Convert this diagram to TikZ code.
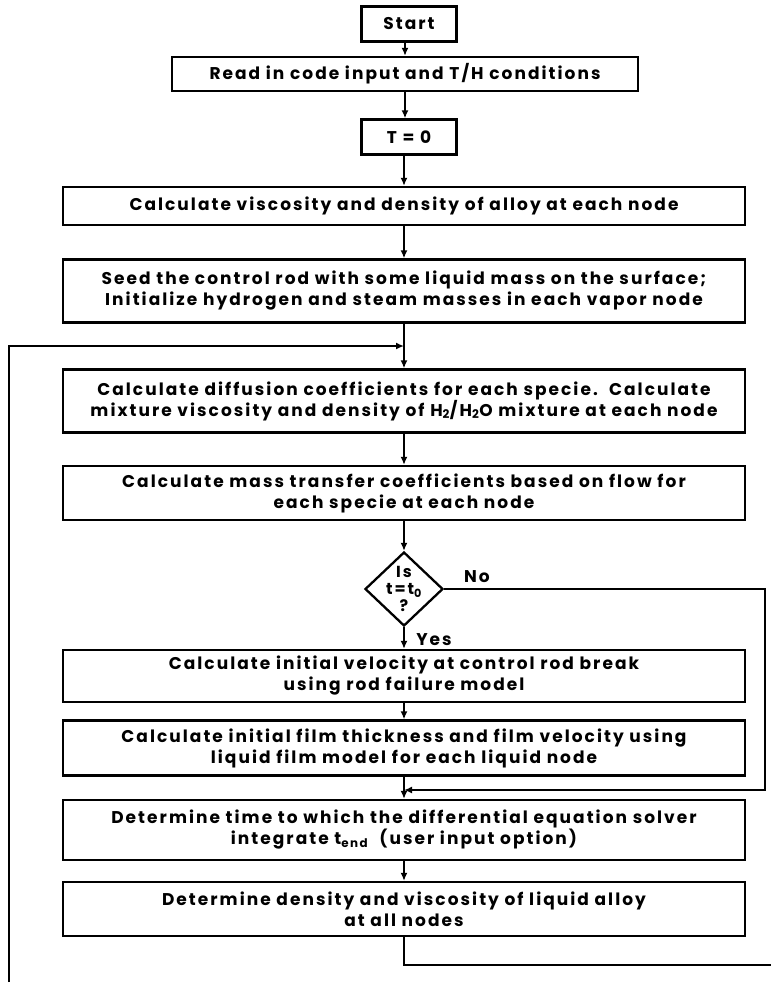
\documentclass[tikz,border=0pt]{standalone}
\usepackage{fontspec}
\setmainfont{Poppins}[LetterSpace=12]
\usetikzlibrary{arrows.meta,shapes.geometric}
\newcommand{\boxfont}{\fontsize{17}{21}\selectfont\bfseries}
\tikzset{
  box/.style={draw, line width=2.3pt, minimum width=682pt, inner sep=0pt, align=center, font=\boxfont},
  arr/.style={-{Latex[length=8pt,width=7pt]}, line width=2.3pt},
  lbl/.style={inner sep=0pt, font=\boxfont}
}
\begin{document}
\begin{tikzpicture}[x=1pt,y=-1pt,line width=2.3pt]
\useasboundingbox (0,0) rectangle (771,985);
\node[box, minimum width=95pt, minimum height=35pt] (start) at (409,24) {Start};
\node[box, minimum width=466pt, minimum height=34pt] (read) at (405,74) {Read in code input and T/H conditions};
\node[box, minimum width=95pt, minimum height=35pt] (t0) at (409,137) {T = 0};
\node[box, minimum height=38pt] (visc) at (404,206) {Calculate viscosity and density of alloy at each node};
\node[box, minimum height=63pt] (seed) at (404,291) {Seed the control rod with some liquid mass on the surface;\\Initialize hydrogen and steam masses in each vapor node};
\coordinate (j1) at (404,346);
\coordinate (loopstart) at (9,982);
\node[box, minimum height=63pt] (diff) at (404,401) {Calculate diffusion coefficients for each specie.\ \ Calculate\\mixture viscosity and density of H\textsubscript{2}/H\textsubscript{2}O mixture at each node};
\node[box, minimum height=54pt] (mass) at (404,493) {Calculate mass transfer coefficients based on flow for\\each specie at each node};
\node[draw, diamond, line width=2.3pt, minimum width=78pt, minimum height=74pt, inner sep=0pt] (dec) at (404,589) {};
\node[lbl, align=center, font=\fontsize{16}{17}\selectfont\bfseries] (dectext) at (dec.center) {Is\\t=t\textsubscript{0}\\?};
\node[box, minimum height=52pt] (vel) at (404,676) {Calculate initial velocity at control rod break\\using rod failure model};
\node[box, minimum height=55pt] (film) at (404,748) {Calculate initial film thickness and film velocity using\\liquid film model for each liquid node};
\coordinate (j2) at (404,790);
\coordinate (noR) at (765,589);
\node[box, minimum height=60pt] (time) at (404,830) {Determine time to which the differential equation solver\\integrate t\textsubscript{end}\ \ (user input option)};
\node[box, minimum height=54pt] (dens) at (404,909) {Determine density and viscosity of liquid alloy\\at all nodes};
\coordinate (bend) at (771,965);
\node[lbl] (no) at (477,577) {No};
\node[lbl] (yes) at (434,640) {Yes};
\draw[arr] (start.south -| read.north) -- (read.north);
\draw[arr] (read) -- (t0.north -| read.north);
\draw[arr] (t0.south -| visc.north) -- (visc.north);
\draw[arr] (visc) -- (seed);
\draw[arr] (seed) -- (diff);
\draw[arr] (loopstart) |- (j1);
\draw[arr] (diff) -- (mass);
\draw[arr] (mass) -- (dec);
\draw[arr] (dec) -- (vel);
\draw[arr] (vel) -- (film);
\draw[arr] (film) -- (time);
\draw[arr] (dec.east) -- (noR) |- (j2);
\draw[arr] (time) -- (dens);
\draw (dens.south) |- (bend);
\end{tikzpicture}
\end{document}
